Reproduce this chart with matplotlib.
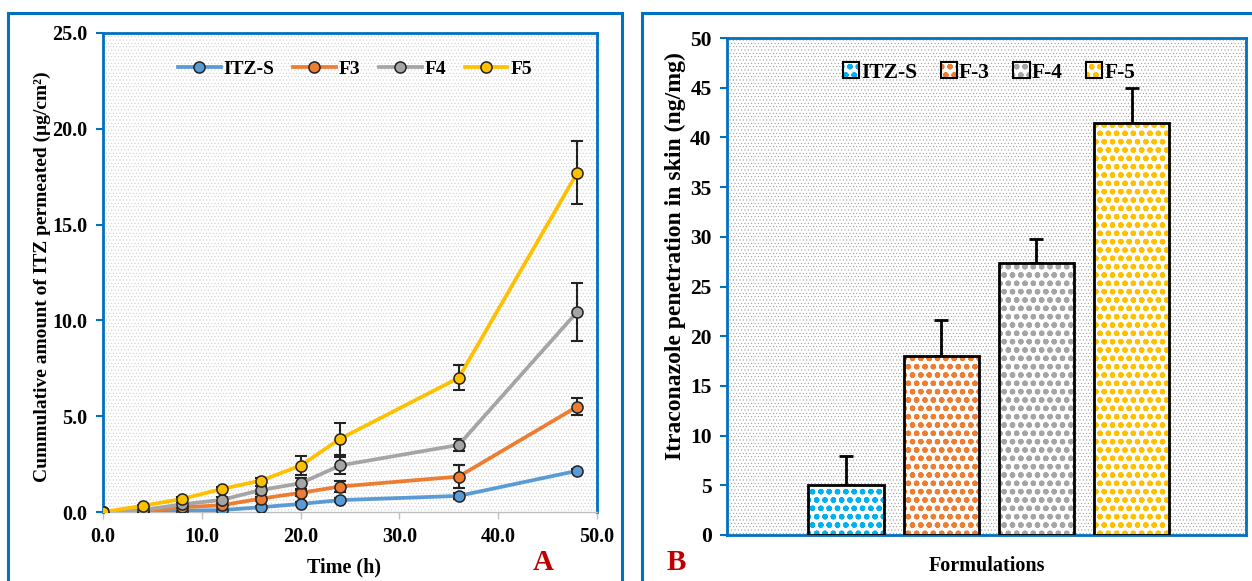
import matplotlib.pyplot as plt
from matplotlib.patches import Rectangle, Patch
from matplotlib.legend_handler import HandlerTuple
from matplotlib.ticker import FormatStrFormatter

plt.rcParams['font.family'] = ['Liberation Serif', 'DejaVu Serif']
plt.rcParams['font.weight'] = 'bold'
plt.rcParams['hatch.linewidth'] = 0.3

# panel A: cumulative permeation
time_h = [0, 4, 8, 12, 16, 20, 24, 36, 48]
itz_s = [0, 0.0, 0.07, 0.1, 0.25, 0.42, 0.62, 0.84, 2.15]
f3 = [0, 0.03, 0.25, 0.35, 0.7, 1.0, 1.33, 1.85, 5.5]
f4 = [0, 0.1, 0.4, 0.63, 1.15, 1.5, 2.43, 3.5, 10.45]
f5 = [0, 0.32, 0.68, 1.2, 1.64, 2.42, 3.82, 7.0, 17.7]
itz_s_err = [0, 0.02, 0.03, 0.05, 0.05, 0.08, 0.1, 0.15, 0.1]
f3_err = [0, 0.03, 0.05, 0.1, 0.1, 0.15, 0.3, 0.6, 0.45]
f4_err = [0, 0.05, 0.1, 0.15, 0.2, 0.3, 0.45, 0.3, 1.5]
f5_err = [0, 0.05, 0.1, 0.1, 0.15, 0.5, 0.85, 0.65, 1.65]
line_names = ['ITZ-S', 'F3', 'F4', 'F5']
line_colors = ['#5B9BD5', '#ED7D31', '#A5A5A5', '#FFC000']

# panel B: skin retention
bar_names = ['ITZ-S', 'F-3', 'F-4', 'F-5']
bar_vals = [5.0, 18.0, 27.4, 41.4]
bar_err = [2.9, 3.6, 2.4, 3.6]
bar_colors = ['#00B0F0', '#ED7D31', '#A5A5A5', '#FFC000']

blue = '#0070C0'
W, H = 1252, 581
fig = plt.figure(figsize=(W / 100, H / 100), dpi=100)


def hatch_lw(p, lw):
  if hasattr(p, 'set_hatch_linewidth'):
    p.set_hatch_linewidth(lw)


# panel frames
for x0, x1 in [(8, 622), (642, 1262)]:
  fig.add_artist(Rectangle((x0 / W, -0.05), (x1 - x0) / W, 1.05 - 13 / H,
                           transform=fig.transFigure, fill=False,
                           edgecolor=blue, linewidth=2.2))

# ---- A ----
ax = fig.add_axes([103 / W, 1 - 512 / H, 494 / W, 479 / H])
ax.patch.set_facecolor('white')
ax.patch.set_edgecolor('#c4c4c4')
ax.patch.set_hatch('.....')
ax.patch.set_linewidth(0)

series = [itz_s, f3, f4, f5]
errs = [itz_s_err, f3_err, f4_err, f5_err]
for name, ys, es, c in zip(line_names, series, errs, line_colors):
  ax.errorbar(time_h, ys, yerr=es, fmt='none', ecolor='#222222',
              elinewidth=1.5, capsize=4, capthick=1.5, zorder=3)
  ax.plot(time_h, ys, color=c, linewidth=2.7, marker='o', markersize=8,
          markerfacecolor=c, markeredgecolor='#222222', markeredgewidth=1.1,
          label=name, zorder=4)

ax.set_xlim(0, 50)
ax.set_ylim(0, 25)
ax.set_xticks([0, 10, 20, 30, 40, 50])
ax.set_yticks([0, 5, 10, 15, 20, 25])
ax.xaxis.set_major_formatter(FormatStrFormatter('%.1f'))
ax.yaxis.set_major_formatter(FormatStrFormatter('%.1f'))
ax.tick_params(axis='x', colors='#bfbfbf', labelcolor='black', length=5,
               width=1, labelsize=14.5, pad=6)
ax.tick_params(axis='y', colors=blue, labelcolor='black', length=5,
               width=1.5, labelsize=14.5, pad=6)
for s in ['left', 'top', 'right']:
  ax.spines[s].set_color(blue)
  ax.spines[s].set_linewidth(2)
ax.spines['bottom'].set_color('#bfbfbf')
ax.spines['bottom'].set_linewidth(1)
for lab in ax.get_xticklabels() + ax.get_yticklabels():
  lab.set_fontweight('bold')

ax.legend(loc='upper center', bbox_to_anchor=(0.51, 0.98), ncol=4,
          frameon=False, fontsize=14, handlelength=2.2, handletextpad=0.15,
          columnspacing=0.95, numpoints=1)

fig.text(42 / W, 1 - 277 / H, 'Cummulative amount of ITZ permeated (μg/cm²)',
         rotation=90, ha='center', va='center', fontsize=14, fontweight='bold')
fig.text(344 / W, 1 - 567 / H, 'Time (h)', ha='center', va='center',
         fontsize=14.5, fontweight='bold')
fig.text(543 / W, 1 - 563 / H, 'A', ha='center', va='center', fontsize=21,
         fontweight='bold', color='#C00000')

# ---- B ----
bx = fig.add_axes([727 / W, 1 - 535 / H, 519 / W, 497 / H])
bx.patch.set_facecolor('white')
bx.patch.set_edgecolor('#8a8a8a')
bx.patch.set_hatch('.....')
bx.patch.set_linewidth(0)

pos = list(range(len(bar_names)))
with plt.rc_context({'hatch.linewidth': 1.6}):
  for i, (v, c) in enumerate(zip(bar_vals, bar_colors)):
    fill = bx.bar(pos[i], v, width=0.79, color='white', edgecolor=c,
                  hatch='oo', linewidth=0, zorder=2)
    for p in fill:
      hatch_lw(p, 1.6)
  bx.bar(pos, bar_vals, width=0.79, fill=False, edgecolor='black',
         linewidth=2, zorder=3)
  bx.errorbar(pos, bar_vals, yerr=[[0] * len(bar_err), bar_err], fmt='none',
              ecolor='black', elinewidth=2, capsize=5, capthick=2, zorder=1)

  handles = []
  for c in bar_colors:
    inner = Patch(facecolor='white', edgecolor=c, hatch='oo', linewidth=0)
    hatch_lw(inner, 1.6)
    outer = Patch(fill=False, edgecolor='black', linewidth=1.5)
    handles.append((inner, outer))

  bx.legend(handles, bar_names, loc='upper center',
            bbox_to_anchor=(0.505, 0.99), ncol=4, frameon=False,
            fontsize=15.5, handlelength=0.75, handleheight=0.75,
            handletextpad=0.1, columnspacing=1.1,
            handler_map={tuple: HandlerTuple(ndivide=1, pad=0)})

bx.set_xlim(-1.25, 4.2)
bx.set_ylim(0, 50)
bx.set_yticks(range(0, 51, 5))
bx.set_xticks([])
bx.tick_params(axis='y', colors=blue, labelcolor='black', length=5,
               width=1.5, labelsize=15.5, pad=6)
for s in bx.spines.values():
  s.set_color(blue)
  s.set_linewidth(2)
for lab in bx.get_yticklabels():
  lab.set_fontweight('bold')

fig.text(675 / W, 1 - 256 / H, 'Itraconazole penetration in skin (ng/mg)',
         rotation=90, ha='center', va='center', fontsize=17, fontweight='bold')
fig.text(987 / W, 1 - 566 / H, 'Formulations', ha='center', va='center',
         fontsize=14.5, fontweight='bold')
fig.text(676 / W, 1 - 562 / H, 'B', ha='center', va='center', fontsize=21,
         fontweight='bold', color='#C00000')

fig.savefig('out.png', dpi=100)
